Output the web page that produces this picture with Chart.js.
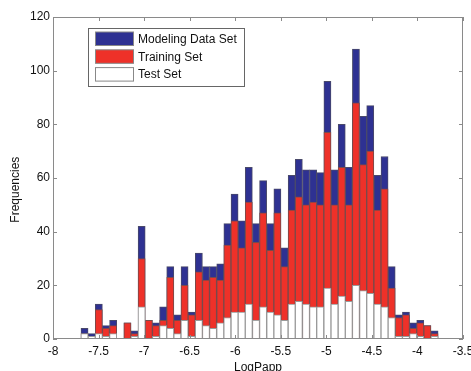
<!DOCTYPE html>
<html>
<head>
<meta charset="utf-8">
<script src="https://cdn.jsdelivr.net/npm/chart.js@4.4.0/dist/chart.umd.min.js"></script>
<style>
  html, body { margin: 0; padding: 0; background: #fff; }
</style>
</head>
<body>
<canvas id="chart" width="471" height="371"></canvas>
<script>
// histogram bin centres (LogPapp)
const binCenters = [
  -7.654, -7.575, -7.497, -7.419, -7.340, -7.262, -7.183, -7.105, -7.027, -6.948,
  -6.870, -6.791, -6.713, -6.635, -6.556, -6.478, -6.399, -6.321, -6.243, -6.164,
  -6.086, -6.007, -5.929, -5.851, -5.772, -5.694, -5.615, -5.537, -5.459, -5.380,
  -5.302, -5.223, -5.145, -5.067, -4.988, -4.910, -4.831, -4.753, -4.675, -4.596,
  -4.518, -4.439, -4.361, -4.283, -4.204, -4.126, -4.047, -3.969, -3.891, -3.812
];
const modelingSet = [
  4, 2, 13, 5, 7, 0, 6, 3, 42, 7,
  6, 12, 27, 9, 27, 10, 32, 27, 27, 28,
  43, 54, 44, 64, 43, 59, 43, 56, 34, 61,
  67, 63, 63, 62, 96, 63, 80, 64, 108, 83,
  87, 61, 68, 27, 9, 10, 6, 7, 5, 3
];
const trainingSet = [
  2, 1, 11, 4, 5, 0, 6, 2, 30, 7,
  5, 7, 23, 7, 20, 9, 25, 22, 23, 22,
  35, 44, 34, 51, 36, 47, 33, 47, 27, 48,
  53, 50, 51, 50, 77, 50, 64, 50, 88, 65,
  70, 48, 56, 19, 8, 9, 4, 6, 5, 2
];
const testSet = [
  2, 1, 2, 1, 2, 0, 0, 1, 12, 0,
  1, 5, 4, 2, 7, 1, 7, 5, 4, 6,
  8, 10, 10, 13, 7, 12, 10, 9, 7, 13,
  14, 13, 12, 12, 19, 13, 16, 14, 20, 18,
  17, 13, 12, 8, 1, 1, 2, 1, 0, 1
];
const xTicks = [-8, -7.5, -7, -6.5, -6, -5.5, -5, -4.5, -4, -3.5];
const yTicks = [0, 20, 40, 60, 80, 100, 120];

const FONT = 'Liberation Sans, Arial, Helvetica, sans-serif';
const NAVY = '#2e3192';
const RED = '#ee3129';

function points(vals) {
  return binCenters.map((x, i) => ({ x: x, y: vals[i] }));
}

// box round the axes with inward ticks, like matlab
const framePlugin = {
  id: 'frame',
  afterDatasetsDraw(chart) {
    const { ctx, chartArea: a, scales } = chart;
    ctx.save();
    ctx.strokeStyle = '#8a8a8a';
    ctx.lineWidth = 1;
    ctx.strokeRect(a.left + 0.5, a.top + 0.5, a.right - a.left - 1, a.bottom - a.top - 1);
    ctx.beginPath();
    xTicks.forEach(v => {
      const px = Math.round(scales.x.getPixelForValue(v)) + 0.5;
      ctx.moveTo(px, a.bottom); ctx.lineTo(px, a.bottom - 4);
      ctx.moveTo(px, a.top); ctx.lineTo(px, a.top + 4);
    });
    yTicks.forEach(v => {
      const py = Math.round(scales.y.getPixelForValue(v)) + 0.5;
      ctx.moveTo(a.left, py); ctx.lineTo(a.left + 4, py);
      ctx.moveTo(a.right, py); ctx.lineTo(a.right - 4, py);
    });
    ctx.stroke();
    ctx.restore();
  },
  afterDraw(chart) {
    // boxed legend inside the plot, top left
    const { ctx, chartArea: a } = chart;
    const bx = a.left + 35.5, by = a.top + 11.5, bw = 156, bh = 58;
    ctx.save();
    ctx.fillStyle = '#fff';
    ctx.fillRect(bx, by, bw, bh);
    ctx.strokeStyle = '#666';
    ctx.lineWidth = 1;
    ctx.strokeRect(bx, by, bw, bh);
    ctx.font = '12px ' + FONT;
    ctx.textBaseline = 'middle';
    chart.data.datasets.forEach((ds, i) => {
      const ry = by + 3.5 + i * 17.8;
      ctx.fillStyle = ds.backgroundColor;
      ctx.fillRect(bx + 7, ry, 38, 13.5);
      ctx.strokeStyle = '#888';
      ctx.strokeRect(bx + 7, ry, 38, 13.5);
      ctx.fillStyle = '#111';
      ctx.fillText(ds.label, bx + 49.5, ry + 7.5);
    });
    ctx.restore();
  }
};

new Chart(document.getElementById('chart'), {
  type: 'bar',
  data: {
    datasets: [
      {
        label: 'Modeling Data Set',
        data: points(modelingSet),
        backgroundColor: NAVY,
        borderColor: '#4a4a6a',
        borderWidth: 1,
        grouped: false,
        order: 3
      },
      {
        label: 'Training Set',
        data: points(trainingSet),
        backgroundColor: RED,
        borderColor: '#7a4a4a',
        borderWidth: 1,
        grouped: false,
        order: 2
      },
      {
        label: 'Test Set',
        data: points(testSet),
        backgroundColor: '#ffffff',
        borderColor: '#9a9a9a',
        borderWidth: 1,
        grouped: false,
        order: 1
      }
    ]
  },
  options: {
    responsive: false,
    animation: false,
    barPercentage: 1,
    categoryPercentage: 1,
    layout: { padding: { top: 17, right: 8, left: 0, bottom: 0 } },
    plugins: {
      legend: { display: false },
      tooltip: { enabled: false }
    },
    scales: {
      x: {
        type: 'linear',
        min: -8,
        max: -3.5,
        offset: false,
        grid: { display: false, drawTicks: false, offset: false },
        border: { display: false },
        afterBuildTicks: s => { s.ticks = xTicks.map(v => ({ value: v })); },
        ticks: {
          color: '#111',
          font: { family: FONT, size: 12 },
          padding: 5,
          maxRotation: 0,
          autoSkip: false,
          callback: v => String(v)
        },
        title: {
          display: true,
          text: 'LogPapp',
          color: '#111',
          font: { family: FONT, size: 12, lineHeight: 0.5 },
          padding: { top: 0, bottom: 0 }
        },
        afterFit: s => { s.height = 32; s.paddingLeft = 0; s.paddingRight = 0; }
      },
      y: {
        min: 0,
        max: 120,
        grid: { display: false, drawTicks: false },
        border: { display: false },
        afterBuildTicks: s => { s.ticks = yTicks.map(v => ({ value: v })); },
        ticks: {
          color: '#111',
          font: { family: FONT, size: 12 },
          padding: 3,
          callback: v => String(v)
        },
        title: {
          display: true,
          text: 'Frequencies' + '\u00a0'.repeat(7),
          color: '#111',
          font: { family: FONT, size: 12 },
          padding: { top: 8, bottom: 0 }
        },
        afterFit: s => { s.width = 53; s.paddingTop = 0; s.paddingBottom = 0; }
      }
    }
  },
  plugins: [framePlugin]
});
</script>
</body>
</html>
